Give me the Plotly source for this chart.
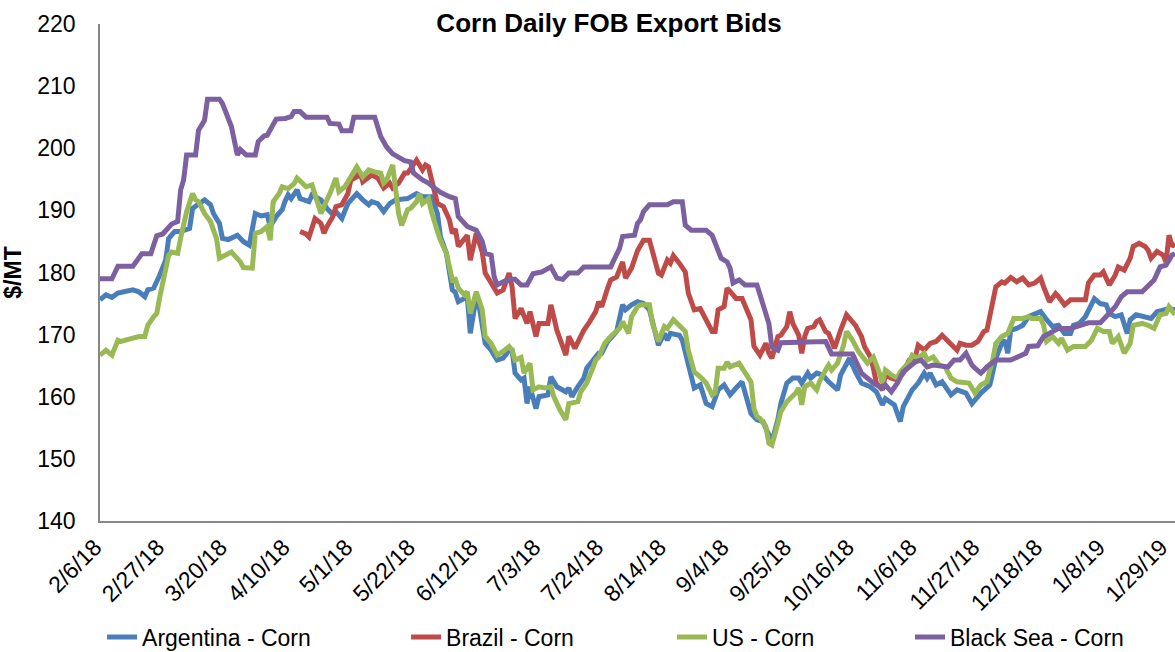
import plotly.graph_objects as go

# ---------------- data ----------------
ARG_DATES = [
    "2018-02-06", "2018-02-08", "2018-02-10", "2018-02-12", "2018-02-14", "2018-02-17", "2018-02-19", "2018-02-21", "2018-02-22", "2018-02-24",
    "2018-02-26", "2018-02-28", "2018-03-01", "2018-03-03", "2018-03-05", "2018-03-08", "2018-03-09", "2018-03-11", "2018-03-13", "2018-03-15",
    "2018-03-16", "2018-03-18", "2018-03-19", "2018-03-21", "2018-03-24", "2018-03-26", "2018-03-28", "2018-03-30", "2018-04-01", "2018-04-03",
    "2018-04-04", "2018-04-06", "2018-04-08", "2018-04-09", "2018-04-10", "2018-04-11", "2018-04-13", "2018-04-14", "2018-04-17", "2018-04-18",
    "2018-04-21", "2018-04-23", "2018-04-25", "2018-04-26", "2018-04-28", "2018-04-30", "2018-05-02", "2018-05-03", "2018-05-05", "2018-05-07",
    "2018-05-08", "2018-05-10", "2018-05-12", "2018-05-14", "2018-05-16", "2018-05-20", "2018-05-23", "2018-05-25", "2018-05-28", "2018-05-30",
    "2018-05-31", "2018-06-02", "2018-06-04", "2018-06-05", "2018-06-06", "2018-06-09", "2018-06-10", "2018-06-12", "2018-06-13", "2018-06-15",
    "2018-06-17", "2018-06-19", "2018-06-21", "2018-06-23", "2018-06-24", "2018-06-25", "2018-06-27", "2018-06-28", "2018-06-29", "2018-06-30",
    "2018-07-02", "2018-07-03", "2018-07-06", "2018-07-07", "2018-07-09", "2018-07-12", "2018-07-13", "2018-07-14", "2018-07-16", "2018-07-18",
    "2018-07-19", "2018-07-21", "2018-07-23", "2018-07-24", "2018-07-26", "2018-07-29", "2018-07-31", "2018-08-01", "2018-08-03", "2018-08-05",
    "2018-08-07", "2018-08-09", "2018-08-11", "2018-08-12", "2018-08-14", "2018-08-15", "2018-08-16", "2018-08-19", "2018-08-20", "2018-08-22",
    "2018-08-24", "2018-08-26", "2018-08-28", "2018-08-30", "2018-09-01", "2018-09-03", "2018-09-05", "2018-09-07", "2018-09-09", "2018-09-12",
    "2018-09-14", "2018-09-16", "2018-09-18", "2018-09-19", "2018-09-21", "2018-09-22", "2018-09-24", "2018-09-26", "2018-09-28", "2018-09-29",
    "2018-10-01", "2018-10-02", "2018-10-04", "2018-10-06", "2018-10-08", "2018-10-11", "2018-10-12", "2018-10-15", "2018-10-17", "2018-10-19",
    "2018-10-22", "2018-10-24", "2018-10-26", "2018-10-27", "2018-10-30", "2018-11-01", "2018-11-02", "2018-11-05", "2018-11-07", "2018-11-09",
    "2018-11-10", "2018-11-11", "2018-11-13", "2018-11-15", "2018-11-18", "2018-11-20", "2018-11-23", "2018-11-25", "2018-11-28", "2018-12-01",
    "2018-12-02", "2018-12-03", "2018-12-05", "2018-12-06", "2018-12-07", "2018-12-08", "2018-12-10", "2018-12-12", "2018-12-14", "2018-12-16",
    "2018-12-18", "2018-12-20", "2018-12-22", "2018-12-24", "2018-12-26", "2018-12-28", "2018-12-29", "2018-12-31", "2019-01-02", "2019-01-05",
    "2019-01-07", "2019-01-09", "2019-01-10", "2019-01-12", "2019-01-14", "2019-01-16", "2019-01-17", "2019-01-19", "2019-01-22", "2019-01-24",
    "2019-01-26", "2019-01-28", "2019-01-30", "2019-02-01",
]
ARG_VALUES = [
    175.6, 176.4, 176.0, 176.7, 176.9, 177.2, 176.9, 176.1, 177.2, 177.5,
    179.6, 182.0, 185.5, 186.6, 186.6, 187.1, 190.3, 190.9, 191.7, 190.9,
    189.5, 187.9, 185.5, 185.3, 186.0, 185.0, 184.4, 189.5, 189.1, 189.3,
    187.4, 189.0, 190.1, 191.5, 192.5, 191.9, 193.3, 191.9, 191.4, 192.5,
    191.7, 190.3, 189.3, 189.8, 188.7, 191.1, 192.2, 192.7, 191.7, 190.9,
    191.4, 191.1, 189.8, 191.1, 191.7, 191.9, 192.7, 192.2, 192.2, 189.5,
    185.8, 183.1, 177.2, 176.8, 175.3, 176.1, 170.2, 176.1, 174.5, 168.6,
    167.5, 165.9, 166.2, 167.5, 167.5, 163.8, 162.7, 163.0, 158.9, 161.6,
    158.1, 160.0, 160.3, 163.2, 161.6, 160.8, 161.4, 160.0, 161.6, 163.0,
    164.6, 165.9, 167.0, 167.0, 168.9, 170.5, 174.8, 174.0, 174.8, 175.3,
    175.0, 174.0, 169.7, 168.3, 170.2, 169.1, 170.2, 169.9, 169.1, 165.4,
    161.4, 161.9, 158.9, 158.4, 161.1, 161.9, 160.3, 161.4, 162.4, 157.3,
    156.3, 156.0, 153.8, 152.8, 156.3, 158.9, 162.2, 163.0, 163.0, 162.2,
    163.8, 163.0, 163.8, 163.5, 162.4, 161.1, 163.5, 166.2, 164.0, 162.2,
    161.6, 160.8, 158.7, 159.7, 158.7, 156.0, 158.4, 161.1, 162.2, 163.8,
    163.0, 163.8, 161.9, 162.4, 160.3, 161.1, 160.6, 158.9, 160.6, 161.9,
    164.0, 166.2, 168.6, 169.1, 167.0, 170.7, 171.0, 171.5, 172.9, 173.2,
    173.7, 172.4, 171.3, 171.5, 170.2, 170.2, 171.5, 171.8, 172.9, 175.8,
    175.0, 174.8, 173.4, 172.9, 173.2, 170.2, 172.4, 173.2, 172.9, 172.6,
    173.7, 174.0, 174.2, 174.0,
]

BRA_DATES = [
    "2018-04-14", "2018-04-16", "2018-04-17", "2018-04-19", "2018-04-21", "2018-04-22", "2018-04-23", "2018-04-25", "2018-04-26", "2018-04-28",
    "2018-04-30", "2018-05-01", "2018-05-03", "2018-05-04", "2018-05-05", "2018-05-07", "2018-05-08", "2018-05-10", "2018-05-12", "2018-05-14",
    "2018-05-15", "2018-05-17", "2018-05-19", "2018-05-20", "2018-05-22", "2018-05-23", "2018-05-25", "2018-05-26", "2018-05-27", "2018-05-29",
    "2018-05-30", "2018-06-01", "2018-06-03", "2018-06-04", "2018-06-05", "2018-06-06", "2018-06-08", "2018-06-09", "2018-06-10", "2018-06-12",
    "2018-06-14", "2018-06-15", "2018-06-17", "2018-06-19", "2018-06-21", "2018-06-23", "2018-06-24", "2018-06-25", "2018-06-27", "2018-06-29",
    "2018-06-30", "2018-07-02", "2018-07-03", "2018-07-06", "2018-07-07", "2018-07-09", "2018-07-12", "2018-07-13", "2018-07-15", "2018-07-17",
    "2018-07-18", "2018-07-20", "2018-07-22", "2018-07-23", "2018-07-24", "2018-07-26", "2018-07-27", "2018-07-29", "2018-07-31", "2018-08-01",
    "2018-08-03", "2018-08-05", "2018-08-07", "2018-08-09", "2018-08-10", "2018-08-12", "2018-08-13", "2018-08-15", "2018-08-16", "2018-08-17",
    "2018-08-19", "2018-08-21", "2018-08-22", "2018-08-24", "2018-08-26", "2018-08-28", "2018-08-30", "2018-08-31", "2018-09-01", "2018-09-03",
    "2018-09-04", "2018-09-06", "2018-09-07", "2018-09-09", "2018-09-12", "2018-09-13", "2018-09-15", "2018-09-17", "2018-09-18", "2018-09-19",
    "2018-09-21", "2018-09-22", "2018-09-24", "2018-09-25", "2018-09-26", "2018-09-28", "2018-09-29", "2018-09-30", "2018-10-01", "2018-10-03",
    "2018-10-04", "2018-10-05", "2018-10-07", "2018-10-08", "2018-10-10", "2018-10-12", "2018-10-14", "2018-10-17", "2018-10-19", "2018-10-20",
    "2018-10-22", "2018-10-23", "2018-10-24", "2018-10-26", "2018-10-27", "2018-10-29", "2018-10-31", "2018-11-02", "2018-11-04", "2018-11-06",
    "2018-11-07", "2018-11-09", "2018-11-11", "2018-11-13", "2018-11-15", "2018-11-16", "2018-11-18", "2018-11-20", "2018-11-21", "2018-11-23",
    "2018-11-25", "2018-11-27", "2018-11-29", "2018-11-30", "2018-12-01", "2018-12-02", "2018-12-03", "2018-12-05", "2018-12-06", "2018-12-08",
    "2018-12-10", "2018-12-12", "2018-12-14", "2018-12-16", "2018-12-18", "2018-12-19", "2018-12-21", "2018-12-23", "2018-12-24", "2018-12-26",
    "2018-12-28", "2018-12-30", "2019-01-02", "2019-01-03", "2019-01-05", "2019-01-07", "2019-01-08", "2019-01-10", "2019-01-12", "2019-01-13",
    "2019-01-15", "2019-01-17", "2019-01-18", "2019-01-20", "2019-01-22", "2019-01-23", "2019-01-24", "2019-01-26", "2019-01-28", "2019-01-29",
    "2019-01-30", "2019-01-31", "2019-02-01",
]
BRA_VALUES = [
    186.6, 186.2, 185.7, 188.7, 187.9, 186.3, 187.4, 189.0, 190.6, 190.9,
    192.7, 194.9, 195.4, 196.2, 194.6, 195.4, 195.7, 195.2, 193.6, 194.4,
    193.6, 194.4, 196.0, 196.0, 197.3, 198.1, 196.5, 197.3, 197.0, 193.3,
    191.1, 190.6, 188.5, 186.3, 187.0, 184.2, 185.6, 186.0, 182.0, 186.3,
    183.3, 179.9, 178.3, 176.7, 177.2, 179.9, 177.7, 172.6, 174.2, 171.8,
    173.7, 169.7, 171.8, 171.8, 174.8, 170.7, 166.7, 169.7, 167.8, 169.7,
    170.7, 172.1, 173.7, 175.3, 174.5, 177.5, 178.8, 179.3, 181.7, 179.1,
    180.7, 183.5, 185.2, 185.2, 183.6, 179.9, 179.6, 182.0, 181.5, 182.7,
    181.5, 180.1, 176.7, 174.0, 174.2, 172.4, 170.5, 170.5, 174.0, 174.5,
    177.5, 176.4, 175.8, 175.8, 172.4, 168.1, 166.7, 168.6, 167.0, 166.2,
    169.7, 169.9, 171.3, 173.7, 171.8, 169.9, 167.0, 169.7, 171.0, 171.3,
    172.1, 172.4, 170.5, 170.2, 167.8, 170.7, 173.2, 171.5, 169.7, 168.1,
    166.4, 164.6, 162.2, 161.1, 163.5, 163.0, 162.7, 163.8, 165.9, 166.4,
    168.3, 167.5, 168.6, 168.9, 169.9, 169.4, 168.3, 167.5, 168.6, 168.3,
    168.3, 168.9, 170.5, 170.7, 173.0, 175.0, 177.7, 178.5, 178.3, 179.2,
    178.5, 179.1, 178.0, 178.3, 179.1, 177.7, 175.3, 176.6, 176.1, 174.8,
    175.6, 175.6, 175.6, 178.3, 179.6, 179.6, 180.1, 178.0, 179.6, 180.9,
    180.4, 182.3, 184.2, 184.7, 184.2, 183.6, 182.3, 183.4, 182.8, 181.7,
    186.0, 184.2, 184.7,
]

US_DATES = [
    "2018-02-06", "2018-02-08", "2018-02-10", "2018-02-12", "2018-02-13", "2018-02-16", "2018-02-19", "2018-02-21", "2018-02-22", "2018-02-24",
    "2018-02-25", "2018-02-26", "2018-02-27", "2018-02-28", "2018-03-01", "2018-03-02", "2018-03-04", "2018-03-05", "2018-03-07", "2018-03-09",
    "2018-03-10", "2018-03-11", "2018-03-13", "2018-03-15", "2018-03-17", "2018-03-18", "2018-03-20", "2018-03-22", "2018-03-25", "2018-03-26",
    "2018-03-29", "2018-03-30", "2018-04-01", "2018-04-03", "2018-04-04", "2018-04-05", "2018-04-07", "2018-04-08", "2018-04-10", "2018-04-12",
    "2018-04-13", "2018-04-15", "2018-04-16", "2018-04-18", "2018-04-19", "2018-04-21", "2018-04-23", "2018-04-24", "2018-04-26", "2018-04-27",
    "2018-04-29", "2018-05-01", "2018-05-02", "2018-05-03", "2018-05-05", "2018-05-07", "2018-05-09", "2018-05-11", "2018-05-12", "2018-05-13",
    "2018-05-15", "2018-05-16", "2018-05-17", "2018-05-18", "2018-05-20", "2018-05-21", "2018-05-23", "2018-05-24", "2018-05-25", "2018-05-27",
    "2018-05-28", "2018-05-30", "2018-05-31", "2018-06-02", "2018-06-04", "2018-06-05", "2018-06-06", "2018-06-08", "2018-06-09", "2018-06-10",
    "2018-06-12", "2018-06-14", "2018-06-15", "2018-06-17", "2018-06-19", "2018-06-21", "2018-06-23", "2018-06-24", "2018-06-25", "2018-06-27",
    "2018-06-28", "2018-06-30", "2018-07-01", "2018-07-03", "2018-07-05", "2018-07-07", "2018-07-08", "2018-07-10", "2018-07-12", "2018-07-13",
    "2018-07-16", "2018-07-17", "2018-07-19", "2018-07-21", "2018-07-22", "2018-07-23", "2018-07-25", "2018-07-27", "2018-07-30", "2018-07-31",
    "2018-08-02", "2018-08-03", "2018-08-05", "2018-08-06", "2018-08-09", "2018-08-10", "2018-08-12", "2018-08-14", "2018-08-15", "2018-08-17",
    "2018-08-19", "2018-08-21", "2018-08-22", "2018-08-24", "2018-08-26", "2018-08-28", "2018-08-30", "2018-08-31", "2018-09-01", "2018-09-03",
    "2018-09-04", "2018-09-05", "2018-09-08", "2018-09-09", "2018-09-12", "2018-09-13", "2018-09-14", "2018-09-15", "2018-09-17", "2018-09-18",
    "2018-09-19", "2018-09-21", "2018-09-22", "2018-09-24", "2018-09-27", "2018-09-28", "2018-09-29", "2018-09-30", "2018-10-02", "2018-10-04",
    "2018-10-05", "2018-10-07", "2018-10-08", "2018-10-09", "2018-10-11", "2018-10-13", "2018-10-14", "2018-10-16", "2018-10-18", "2018-10-21",
    "2018-10-23", "2018-10-25", "2018-10-26", "2018-10-27", "2018-10-29", "2018-10-31", "2018-11-01", "2018-11-04", "2018-11-05", "2018-11-07",
    "2018-11-09", "2018-11-10", "2018-11-12", "2018-11-14", "2018-11-16", "2018-11-18", "2018-11-20", "2018-11-24", "2018-11-26", "2018-11-28",
    "2018-11-30", "2018-12-01", "2018-12-02", "2018-12-03", "2018-12-05", "2018-12-07", "2018-12-09", "2018-12-12", "2018-12-14", "2018-12-15",
    "2018-12-18", "2018-12-19", "2018-12-20", "2018-12-22", "2018-12-24", "2018-12-25", "2018-12-27", "2018-12-29", "2019-01-02", "2019-01-04",
    "2019-01-06", "2019-01-08", "2019-01-10", "2019-01-11", "2019-01-13", "2019-01-15", "2019-01-17", "2019-01-18", "2019-01-21", "2019-01-23",
    "2019-01-25", "2019-01-27", "2019-01-29", "2019-01-30", "2019-02-01",
]
US_VALUES = [
    166.7, 167.5, 166.7, 169.1, 168.9, 169.4, 169.7, 169.7, 171.5, 172.9,
    173.4, 176.0, 178.0, 180.7, 182.8, 183.3, 183.1, 185.5, 189.8, 192.7,
    191.7, 191.4, 189.5, 188.2, 185.5, 182.3, 182.8, 183.3, 181.7, 180.8,
    180.7, 186.3, 186.6, 187.4, 185.2, 191.4, 192.7, 193.8, 193.5, 194.3,
    195.2, 194.1, 193.8, 194.1, 192.5, 189.5, 191.7, 192.7, 195.2, 193.0,
    193.8, 195.4, 196.2, 197.0, 195.4, 196.5, 196.2, 196.0, 194.4, 194.9,
    197.3, 193.8, 189.5, 187.6, 190.1, 190.3, 191.4, 192.7, 191.1, 191.9,
    189.8, 186.6, 185.2, 183.1, 178.8, 178.9, 177.5, 176.4, 176.9, 173.4,
    176.9, 174.0, 169.7, 168.6, 166.7, 167.3, 168.1, 167.5, 165.9, 166.3,
    163.8, 165.4, 161.1, 161.6, 161.4, 161.6, 160.0, 157.9, 156.3, 158.9,
    159.2, 160.8, 162.2, 164.6, 165.9, 166.4, 168.6, 169.7, 171.0, 172.1,
    170.2, 172.9, 174.5, 174.8, 174.8, 171.8, 168.9, 171.3, 171.0, 172.4,
    171.5, 170.5, 167.5, 164.0, 163.2, 162.2, 160.3, 160.6, 164.6, 164.6,
    165.6, 164.8, 165.4, 164.6, 162.4, 158.1, 156.8, 156.5, 155.2, 152.5,
    152.2, 155.7, 157.6, 159.2, 160.6, 161.4, 158.7, 161.6, 162.2, 161.1,
    162.5, 164.3, 165.1, 164.3, 165.4, 168.3, 170.5, 169.1, 167.3, 165.4,
    166.4, 163.8, 162.2, 164.3, 163.5, 163.0, 164.0, 165.6, 166.7, 166.2,
    167.0, 165.9, 166.4, 165.1, 164.8, 163.0, 162.4, 162.2, 160.6, 161.9,
    162.4, 164.3, 166.0, 168.6, 169.7, 170.2, 172.6, 172.6, 172.9, 172.6,
    172.6, 171.5, 168.9, 169.7, 168.6, 169.4, 167.5, 168.1, 168.1, 169.1,
    171.0, 170.5, 170.5, 168.6, 169.7, 167.0, 168.6, 171.5, 171.8, 171.5,
    171.0, 173.2, 173.4, 174.5, 173.2,
]

BSEA_DATES = [
    "2018-02-06", "2018-02-10", "2018-02-12", "2018-02-17", "2018-02-20", "2018-02-23", "2018-02-25", "2018-02-27", "2018-03-02", "2018-03-04",
    "2018-03-05", "2018-03-06", "2018-03-07", "2018-03-10", "2018-03-11", "2018-03-13", "2018-03-14", "2018-03-18", "2018-03-19", "2018-03-22",
    "2018-03-24", "2018-03-25", "2018-03-27", "2018-03-30", "2018-03-31", "2018-04-02", "2018-04-03", "2018-04-06", "2018-04-09", "2018-04-11",
    "2018-04-12", "2018-04-14", "2018-04-16", "2018-04-23", "2018-04-24", "2018-04-27", "2018-04-28", "2018-05-01", "2018-05-02", "2018-05-09",
    "2018-05-11", "2018-05-13", "2018-05-15", "2018-05-17", "2018-05-19", "2018-05-21", "2018-05-22", "2018-05-25", "2018-05-27", "2018-05-29",
    "2018-05-31", "2018-06-03", "2018-06-05", "2018-06-06", "2018-06-08", "2018-06-09", "2018-06-12", "2018-06-14", "2018-06-15", "2018-06-17",
    "2018-06-18", "2018-06-19", "2018-06-21", "2018-06-23", "2018-06-25", "2018-06-27", "2018-06-29", "2018-07-01", "2018-07-04", "2018-07-05",
    "2018-07-07", "2018-07-09", "2018-07-11", "2018-07-13", "2018-07-16", "2018-07-18", "2018-07-27", "2018-07-30", "2018-07-31", "2018-08-04",
    "2018-08-05", "2018-08-06", "2018-08-07", "2018-08-09", "2018-08-15", "2018-08-17", "2018-08-20", "2018-08-21", "2018-08-23", "2018-08-28",
    "2018-08-30", "2018-09-02", "2018-09-04", "2018-09-05", "2018-09-06", "2018-09-08", "2018-09-10", "2018-09-14", "2018-09-16", "2018-09-18",
    "2018-09-19", "2018-09-21", "2018-09-22", "2018-10-07", "2018-10-09", "2018-10-16", "2018-10-19", "2018-10-21", "2018-10-23", "2018-10-26",
    "2018-10-27", "2018-10-29", "2018-10-31", "2018-11-02", "2018-11-04", "2018-11-06", "2018-11-08", "2018-11-10", "2018-11-12", "2018-11-15",
    "2018-11-17", "2018-11-19", "2018-11-21", "2018-11-23", "2018-11-25", "2018-11-26", "2018-11-28", "2018-11-30", "2018-12-01", "2018-12-03",
    "2018-12-08", "2018-12-10", "2018-12-13", "2018-12-14", "2018-12-17", "2018-12-19", "2018-12-22", "2018-12-24", "2018-12-28", "2019-01-01",
    "2019-01-03", "2019-01-07", "2019-01-09", "2019-01-12", "2019-01-14", "2019-01-16", "2019-01-21", "2019-01-23", "2019-01-25", "2019-01-27",
    "2019-01-29", "2019-01-31", "2019-02-01",
]
BSEA_VALUES = [
    179.0, 179.0, 181.0, 181.0, 183.0, 183.0, 185.9, 186.2, 187.8, 188.2,
    193.3, 194.9, 198.9, 198.9, 202.9, 204.5, 207.9, 207.9, 207.2, 203.5,
    198.9, 199.8, 198.9, 198.9, 201.1, 202.0, 202.1, 204.7, 204.8, 205.1,
    205.9, 205.9, 205.0, 205.0, 204.0, 203.9, 202.8, 202.8, 205.0, 205.0,
    201.9, 200.2, 199.1, 198.6, 198.0, 197.8, 196.0, 194.9, 194.4, 193.6,
    192.9, 192.2, 191.9, 189.0, 188.0, 187.4, 186.8, 185.0, 183.1, 182.8,
    179.3, 178.0, 178.5, 178.9, 178.9, 178.0, 178.0, 179.8, 180.1, 180.4,
    180.9, 179.1, 178.9, 179.9, 179.9, 180.9, 180.9, 183.9, 185.8, 186.0,
    187.9, 188.5, 189.8, 190.9, 190.9, 191.4, 191.4, 187.6, 186.8, 186.8,
    186.0, 182.3, 181.7, 180.7, 178.3, 178.8, 178.0, 178.0, 175.0, 171.8,
    168.0, 167.5, 168.7, 168.9, 166.9, 166.9, 163.8, 163.0, 162.2, 161.4,
    161.9, 160.8, 162.2, 164.0, 164.8, 165.6, 165.9, 164.8, 165.1, 164.8,
    164.8, 165.9, 165.9, 167.0, 165.1, 164.6, 163.8, 164.8, 165.1, 165.9,
    165.9, 166.3, 167.0, 168.1, 168.2, 169.7, 170.5, 171.0, 171.0, 171.5,
    171.9, 171.9, 172.9, 174.5, 176.1, 176.9, 176.9, 178.0, 178.8, 180.9,
    181.2, 182.8, 183.0,
]

SERIES_NAMES = ["Argentina - Corn", "Brazil - Corn", "US - Corn", "Black Sea - Corn"]
SERIES_COLORS = ["#4A7EBB", "#BE4B48", "#98B954", "#7D60A0"]

# x-axis labels every three weeks, tick marks every six weeks
LABEL_DATES = [
    "2018-02-06", "2018-02-27", "2018-03-20", "2018-04-10", "2018-05-01", "2018-05-22",
    "2018-06-12", "2018-07-03", "2018-07-24", "2018-08-14", "2018-09-04", "2018-09-25",
    "2018-10-16", "2018-11-06", "2018-11-27", "2018-12-18", "2019-01-08", "2019-01-29",
]
TICKMARK_DATES = LABEL_DATES[::2]
X_RANGE = ["2018-02-06", "2019-02-01"]
Y_RANGE = [140, 220]

# ---------------- figure ----------------
FONT = "Liberation Sans, Arial, sans-serif"
AXIS_GREY = "#868686"

all_dates = [ARG_DATES, BRA_DATES, US_DATES, BSEA_DATES]
all_values = [ARG_VALUES, BRA_VALUES, US_VALUES, BSEA_VALUES]
legend_ids = ["legend", "legend2", "legend3", "legend4"]

fig = go.Figure()
for name, color, xs, ys, lg in zip(SERIES_NAMES, SERIES_COLORS, all_dates, all_values, legend_ids):
    assert len(xs) == len(ys), name
    fig.add_trace(go.Scatter(
        x=xs, y=ys, name=name, mode="lines",
        line=dict(color=color, width=5),
        legend=lg,
    ))

legend_x = [0.0019, 0.2847, 0.5321, 0.7535]
legend_common = dict(
    orientation="h", xanchor="left", yanchor="middle", y=-0.2335,
    font=dict(family=FONT, size=23, color="#000000"),
    bgcolor="rgba(0,0,0,0)", borderwidth=0,
)
layout_legends = {}
for lg, lx in zip(legend_ids, legend_x):
    layout_legends[lg] = dict(x=lx, **legend_common)

fig.update_layout(
    width=1175, height=652,
    paper_bgcolor="white", plot_bgcolor="white",
    margin=dict(l=100, r=0, t=24, b=131, autoexpand=False),
    font=dict(family=FONT, color="#000000"),
    title=dict(
        text="<b>Corn Daily FOB Export Bids</b>",
        x=609 / 1175, xanchor="center", xref="container",
        y=1 - 23 / 652, yanchor="middle", yref="container",
        font=dict(family=FONT, size=26, color="#000000"),
    ),
    showlegend=True,
    **layout_legends,
)

fig.update_xaxes(
    type="date", range=X_RANGE,
    tickmode="array", tickvals=LABEL_DATES, tickformat="%-m/%-d/%y",
    tickangle=-45, ticks="", ticklen=6, ticklabeloverflow="allow",
    ticklabelshift=-5, ticklabelstandoff=2,
    tickfont=dict(family=FONT, size=23, color="#000000"),
    showline=True, linecolor=AXIS_GREY, linewidth=1.5,
    showgrid=False, zeroline=False,
)
fig.update_yaxes(
    range=Y_RANGE, tickmode="linear", tick0=140, dtick=10,
    ticks="", ticklabelstandoff=18,
    tickfont=dict(family=FONT, size=23, color="#000000"),
    showline=True, linecolor=AXIS_GREY, linewidth=1.5,
    showgrid=False, zeroline=False,
    title=dict(text="<b>$/MT</b>", font=dict(family=FONT, size=23, color="#000000"), standoff=12),
)

# overlay axis that only carries the six-weekly tick marks
fig.update_layout(xaxis2=dict(
    type="date", range=X_RANGE, overlaying="x", anchor="y", side="bottom",
    tickmode="array", tickvals=TICKMARK_DATES, ticks="outside", ticklen=6,
    tickcolor=AXIS_GREY, tickwidth=1.5, showticklabels=False,
    showline=False, showgrid=False, zeroline=False,
))

fig.write_html(
    "out.html",
    config={"displayModeBar": False},
    post_script="document.body.style.margin='0';document.body.style.overflow='hidden';",
)
